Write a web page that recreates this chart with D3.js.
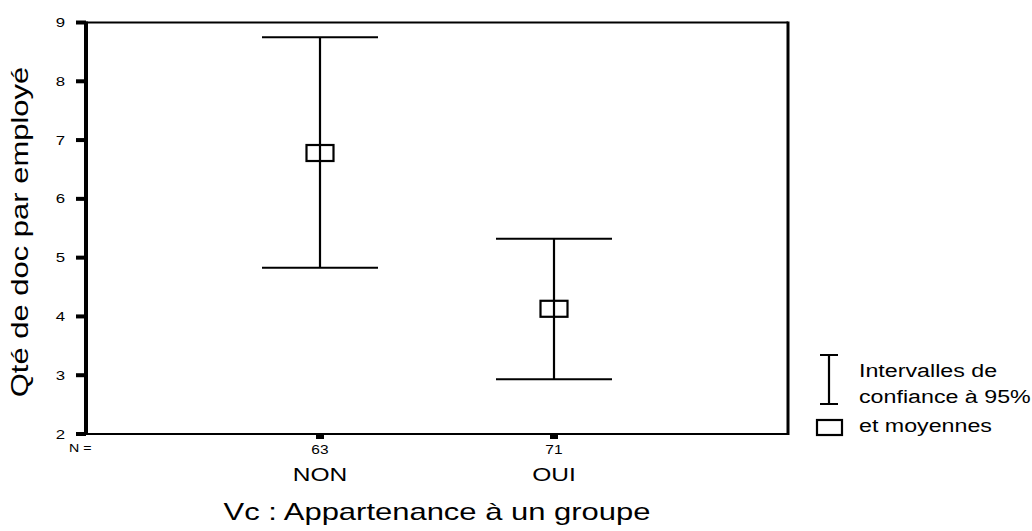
<!DOCTYPE html>
<html>
<head>
<meta charset="utf-8">
<script src="https://cdn.jsdelivr.net/npm/d3@7"></script>
<style>
  html, body { margin: 0; padding: 0; background: #fff; }
  text { font-family: "Liberation Sans", Arial, sans-serif; fill: #000; }
</style>
</head>
<body>
<svg id="chart" width="1032" height="531"></svg>
<script>
// ---- data ----
const categories = ["NON", "OUI"];
const counts = [63, 71];
const means = [6.78, 4.13];
const lowerCI = [4.83, 2.93];
const upperCI = [8.75, 5.32];
const yTicks = [2, 3, 4, 5, 6, 7, 8, 9];
const yTitle = "Qté de doc par employé";
const xTitle = "Vc : Appartenance à un groupe";
const legendLines = ["Intervalles de", "confiance à 95%", "et moyennes"];

const svg = d3.select("#chart");
const plot = { left: 86, right: 788, top: 22.5, bottom: 434 };
const STRETCH = 1.29;

function stretch(sel, k) {
  sel.each(function () {
    const w = this.getComputedTextLength();
    this.setAttribute("textLength", w * k);
    this.setAttribute("lengthAdjust", "spacingAndGlyphs");
  });
}

const x = d3.scalePoint().domain(categories).range([plot.left, plot.right]).padding(1);
const y = d3.scaleLinear().domain([2, 9]).range([plot.bottom, plot.top]);

// frame
svg.append("line").attr("x1", plot.left).attr("x2", plot.right).attr("y1", plot.top).attr("y2", plot.top)
  .attr("stroke", "#000").attr("stroke-width", 2);
svg.append("line").attr("x1", plot.left).attr("x2", plot.right).attr("y1", plot.bottom).attr("y2", plot.bottom)
  .attr("stroke", "#000").attr("stroke-width", 2);
svg.append("line").attr("x1", plot.right).attr("x2", plot.right).attr("y1", plot.top - 1).attr("y2", plot.bottom + 1)
  .attr("stroke", "#000").attr("stroke-width", 3);
svg.append("line").attr("x1", plot.left).attr("x2", plot.left).attr("y1", plot.top - 1).attr("y2", plot.bottom + 1)
  .attr("stroke", "#000").attr("stroke-width", 4);

// y axis ticks + labels
const yAxis = svg.append("g");
yAxis.selectAll("rect.tick").data(yTicks).join("rect")
  .attr("x", plot.left - 10).attr("width", 10)
  .attr("y", d => y(d) - 2).attr("height", 4).attr("fill", "#000");
yAxis.selectAll("text").data(yTicks).join("text")
  .attr("x", 65).attr("y", d => y(d)).attr("dy", "0.35em")
  .attr("text-anchor", "end").attr("font-size", 13)
  .text(d => d).call(stretch, STRETCH);

// x axis ticks, counts, labels
const xAxis = svg.append("g");
xAxis.selectAll("rect").data(categories).join("rect")
  .attr("x", d => x(d) - 4).attr("width", 8)
  .attr("y", plot.bottom).attr("height", 5).attr("fill", "#000");
xAxis.selectAll("text.n").data(categories).join("text").attr("class", "n")
  .attr("x", d => x(d)).attr("y", 454).attr("text-anchor", "middle").attr("font-size", 12)
  .text((d, i) => counts[i]).call(stretch, STRETCH);
xAxis.selectAll("text.cat").data(categories).join("text").attr("class", "cat")
  .attr("x", d => x(d)).attr("y", 481).attr("text-anchor", "middle").attr("font-size", 19)
  .text(d => d).call(stretch, STRETCH);
xAxis.append("text").attr("x", 69).attr("y", 452).attr("font-size", 11)
  .text("N =").call(stretch, STRETCH);

// titles
svg.append("text").attr("x", (plot.left + plot.right) / 2).attr("y", 520)
  .attr("text-anchor", "middle").attr("font-size", 24)
  .text(xTitle).call(stretch, STRETCH);
svg.append("text").attr("transform", "translate(28,232) rotate(-90)")
  .attr("text-anchor", "middle").attr("font-size", 24)
  .text(yTitle).call(stretch, STRETCH);

// error bars
const halfCap = 58;
const g = svg.append("g");
categories.forEach((c, i) => {
  const cx = x(c);
  g.append("line").attr("x1", cx).attr("x2", cx).attr("y1", y(upperCI[i])).attr("y2", y(lowerCI[i]))
    .attr("stroke", "#000").attr("stroke-width", 2.2);
  g.append("line").attr("x1", cx - halfCap).attr("x2", cx + halfCap).attr("y1", y(upperCI[i])).attr("y2", y(upperCI[i]))
    .attr("stroke", "#000").attr("stroke-width", 2);
  g.append("line").attr("x1", cx - halfCap).attr("x2", cx + halfCap).attr("y1", y(lowerCI[i])).attr("y2", y(lowerCI[i]))
    .attr("stroke", "#000").attr("stroke-width", 2);
  g.append("rect").attr("x", cx - 13.5).attr("y", y(means[i]) - 8).attr("width", 27).attr("height", 16)
    .attr("fill", "none").attr("stroke", "#000").attr("stroke-width", 2.2);
});

// legend
const lg = svg.append("g");
lg.append("line").attr("x1", 829).attr("x2", 829).attr("y1", 354).attr("y2", 404).attr("stroke", "#000").attr("stroke-width", 2.2);
lg.append("line").attr("x1", 820).attr("x2", 838).attr("y1", 355).attr("y2", 355).attr("stroke", "#000").attr("stroke-width", 2);
lg.append("line").attr("x1", 820).attr("x2", 838).attr("y1", 404).attr("y2", 404).attr("stroke", "#000").attr("stroke-width", 2);
lg.append("rect").attr("x", 817).attr("y", 420).attr("width", 25).attr("height", 15)
  .attr("fill", "none").attr("stroke", "#000").attr("stroke-width", 2.2);
lg.selectAll("text").data(legendLines).join("text")
  .attr("x", 859).attr("y", (d, i) => [377, 403, 432][i]).attr("font-size", 18)
  .text(d => d).call(stretch, STRETCH);
</script>
</body>
</html>
